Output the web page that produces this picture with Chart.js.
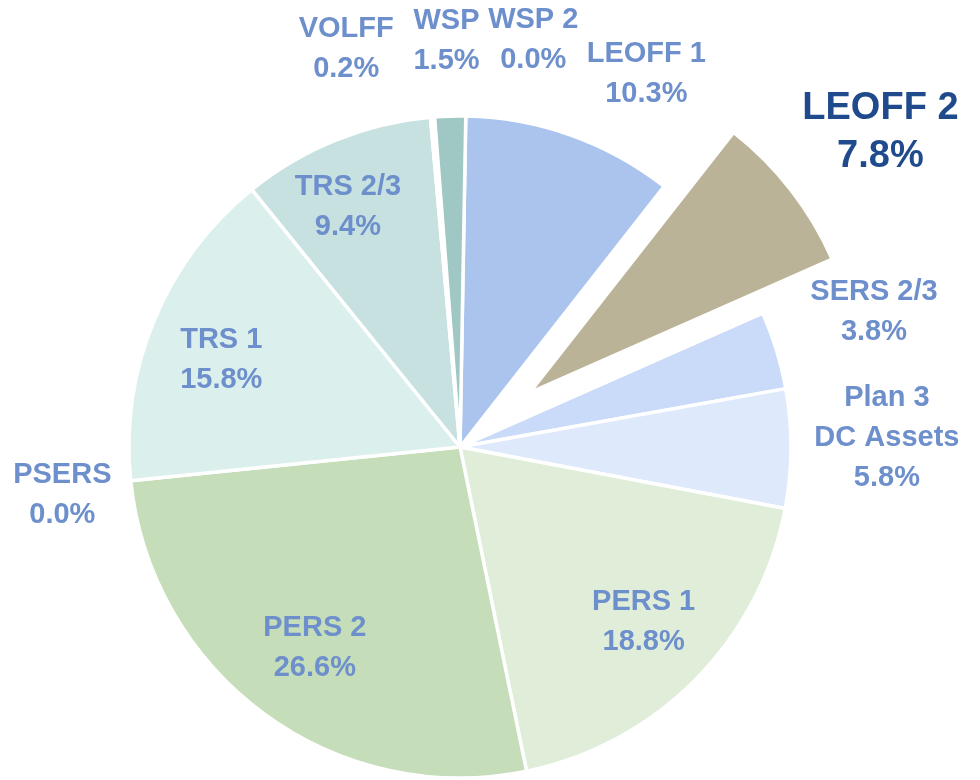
<!DOCTYPE html>
<html>
<head>
<meta charset="utf-8">
<title>Plan share of assets</title>
<script src="https://cdn.jsdelivr.net/npm/chart.js@4/dist/chart.umd.min.js"></script>
<style>
  html, body { margin: 0; padding: 0; background: #fff; }
  #wrap { width: 980px; height: 780px; }
</style>
</head>
<body>
<div id="wrap"><canvas id="pie" width="980" height="780"></canvas></div>
<script>
// slices in clockwise order, starting at 12 o'clock
const plans = [
  ['LEOFF 1'], ['LEOFF 2'], ['SERS 2/3'], ['Plan 3', 'DC Assets'], ['PERS 1'], ['PERS 2'],
  ['PSERS'], ['TRS 1'], ['TRS 2/3'], ['VOLFF'], ['WSP'], ['WSP 2']
];
const shares = [10.3, 7.8, 3.8, 5.8, 18.8, 26.6, 0.0, 15.8, 9.4, 0.2, 1.5, 0.0];
const sliceColors = [
  '#aac4ee', '#bbb398', '#c9dbf8', '#dee9fc', '#dfedd9', '#c5ddb9',
  '#c5ddb9', '#dbefed', '#c7e1e1', '#ffffff', '#9fc7c3', '#9fc7c3'
];
const explodedIndex = 1;
const EXPLODE = 88;

// label placement: radius as a fraction of the pie radius, and an angular nudge (deg)
const labelRadius = [1.26, 1.32, 1.315, 1.29, 0.767, 0.75, 1.21, 0.768, 0.80, 1.25, 1.228, 1.25];
const labelNudge  = [7.0, 1.1, -1.0, -1.5, -0.9, -0.5, -1.0, -2.5, -3.0, -11.2, -0.2, 9.2];

const LABEL_COLOR = '#6d8fcb';
const HILITE_COLOR = '#1f4a8c';

// pull one slice out of the pie without growing it (the built-in offset also enlarges it)
const explodePlugin = {
  id: 'explode',
  afterDatasetUpdate(chart, args, opts) {
    const arc = chart.getDatasetMeta(0).data[opts.index];
    if (!arc || arc._exploded) return;
    arc._exploded = true;
    const baseDraw = arc.draw;
    arc.draw = function(ctx, area) {
      const mid = (this.startAngle + this.endAngle) / 2;
      ctx.save();
      ctx.translate(Math.cos(mid) * opts.distance, Math.sin(mid) * opts.distance);
      baseDraw.call(this, ctx, area);
      ctx.restore();
    };
  }
};

const labelPlugin = {
  id: 'sliceLabels',
  afterDatasetsDraw(chart, args, opts) {
    const ctx = chart.ctx;
    const arcs = chart.getDatasetMeta(0).data;
    ctx.save();
    ctx.textAlign = 'center';
    ctx.textBaseline = 'middle';
    arcs.forEach((arc, i) => {
      const big = i === explodedIndex;
      const size = big ? 38 : 29;
      const lineH = big ? 48 : 40;
      const a = (arc.startAngle + arc.endAngle) / 2 + labelNudge[i] * Math.PI / 180;
      const r = arc.outerRadius * labelRadius[i] + (big ? opts.explode : 0);
      const x = arc.x + Math.cos(a) * r;
      const y = arc.y + Math.sin(a) * r;
      const lines = plans[i].concat([shares[i].toFixed(1) + '%']);
      ctx.font = `bold ${size}px "Liberation Sans", Arial, sans-serif`;
      ctx.fillStyle = big ? HILITE_COLOR : LABEL_COLOR;
      const top = y - (lines.length - 1) * lineH / 2;
      lines.forEach((t, k) => ctx.fillText(t, x, top + k * lineH));
    });
    ctx.restore();
  }
};

new Chart(document.getElementById('pie'), {
  type: 'pie',
  data: {
    labels: plans.map(p => p.join(' ')),
    datasets: [{
      data: shares,
      backgroundColor: sliceColors,
      borderColor: '#ffffff',
      borderWidth: 3.5
    }]
  },
  options: {
    responsive: false,
    animation: false,
    rotation: 1,
    radius: 331,
    layout: { padding: { left: 0, right: 60, top: 114, bottom: 0 } },
    plugins: {
      legend: { display: false },
      tooltip: { enabled: false },
      explode: { index: explodedIndex, distance: EXPLODE },
      sliceLabels: { explode: EXPLODE }
    }
  },
  plugins: [explodePlugin, labelPlugin]
});
</script>
</body>
</html>
